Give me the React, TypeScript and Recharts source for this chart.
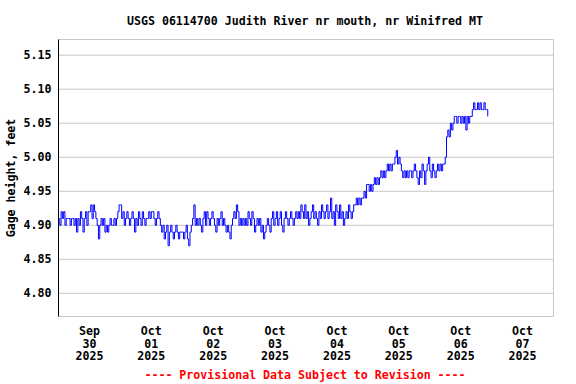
import React from "react";
import { LineChart, Line, XAxis, YAxis, CartesianGrid } from "recharts";

// Gage height readings, in hundredths of a foot, every 30 minutes from 00:00 of each day
const sep30 = [491,490,492,491,492,490,491,491,491,490,491,491,490,491,489,491,490,492,491,489,491,492,490,492,492,493,491,493,492,491,490,488,490,491,490,491,489,490,489,490,491,490,490,491,490,491,492,493];
const oct01 = [493,491,492,490,491,492,491,490,491,492,491,489,491,490,492,491,490,492,491,490,491,491,492,491,492,492,491,490,491,492,491,490,489,490,488,489,490,487,489,490,489,488,489,490,489,488,489,489];
const oct02 = [489,488,489,490,488,487,489,490,491,493,490,491,490,491,490,489,491,492,490,492,491,490,491,492,491,490,489,491,490,491,492,490,491,490,489,490,489,488,490,491,492,491,493,492,490,491,490,491];
const oct03 = [490,491,490,492,491,490,492,491,489,490,491,490,491,489,490,488,489,490,491,490,489,491,492,490,491,492,490,491,492,490,489,491,492,491,490,491,492,491,490,491,492,491,492,491,493,492,491,493];
const oct04 = [491,492,490,491,492,493,491,492,491,490,492,491,493,492,491,492,493,491,492,494,491,492,490,493,492,491,493,491,492,490,491,492,491,493,492,491,492,493,493,494,493,494,493,494,494,495,494,496];
const oct05 = [496,495,496,495,496,497,496,497,496,497,498,497,498,497,498,499,498,499,498,499,499,500,501,499,500,499,498,497,498,497,498,497,498,498,497,498,499,498,497,496,498,497,499,498,496,498,499,500];
const oct06 = [498,497,499,498,497,498,499,498,499,498,499,499,500,503,504,503,505,504,505,506,506,505,506,506,505,506,505,506,504,506,505,506,506,507,508,507,507,508,507,508,507,507,508,507,507,506];

const dayReadings = [sep30, oct01, oct02, oct03, oct04, oct05, oct06];

// x-axis: hours since Sep 30 00:00
const midnightTicks = [0, 24, 48, 72, 96, 120, 144, 168, 192];
const noonTicks = [12, 36, 60, 84, 108, 132, 156, 180];
const tickMonths = ["Sep", "Oct", "Oct", "Oct", "Oct", "Oct", "Oct", "Oct"];
const tickDays = ["30", "01", "02", "03", "04", "05", "06", "07"];
const tickYears = ["2025", "2025", "2025", "2025", "2025", "2025", "2025", "2025"];

const yTicks = [4.8, 4.85, 4.9, 4.95, 5.0, 5.05, 5.1, 5.15];

const rows = dayReadings.flatMap((arr, d) =>
  arr.map((v, i) => ({ t: d * 24 + i * 0.5, h: v / 100 }))
);

const FONT = "'DejaVu Sans Mono', monospace";

const DateTick = (props: any) => {
  const { x, y, payload } = props;
  const i = noonTicks.indexOf(payload.value);
  if (i < 0) return null;
  return (
    <text x={x} y={y} textAnchor="middle" fontFamily={FONT} fontWeight="bold" fontSize={11.6} fill="#000">
      <tspan x={x} dy={18.5}>{tickMonths[i]}</tspan>
      <tspan x={x} dy={12.6}>{tickDays[i]}</tspan>
      <tspan x={x} dy={12.8}>{tickYears[i]}</tspan>
    </text>
  );
};

export default function App() {
  return (
    <div style={{ position: "absolute", left: 0, top: 0, width: 576, height: 384, background: "#fff" }}>
      <LineChart width={576} height={384} data={rows} margin={{ top: 39.5, right: 22.5, bottom: 0, left: 0.5 }}>
        <CartesianGrid stroke="#c8c8c8" strokeWidth={1} />
        <XAxis
          dataKey="t"
          type="number"
          domain={[0, 192]}
          ticks={midnightTicks}
          tick={false}
          tickLine={false}
          height={0}
          axisLine={{ stroke: "#000", strokeWidth: 1 }}
        />
        <XAxis
          xAxisId="lbl"
          dataKey="t"
          type="number"
          domain={[0, 192]}
          ticks={noonTicks}
          interval={0}
          tickLine={false}
          axisLine={false}
          tickSize={0}
          tickMargin={0}
          height={67.5}
          tick={<DateTick />}
        />
        <XAxis
          xAxisId="top"
          orientation="top"
          type="number"
          domain={[0, 192]}
          tick={false}
          tickLine={false}
          height={0}
          axisLine={{ stroke: "#000", strokeWidth: 1 }}
        />
        <YAxis
          type="number"
          domain={[4.766, 5.173]}
          ticks={yTicks}
          interval={0}
          width={58}
          tickLine={false}
          tickSize={0}
          tickMargin={7}
          axisLine={{ stroke: "#000", strokeWidth: 1 }}
          tickFormatter={(v: number) => v.toFixed(2)}
          tick={{ fontFamily: FONT, fontWeight: "bold", fontSize: 11.6, fill: "#000" }}
        />
        <YAxis
          yAxisId="r"
          orientation="right"
          type="number"
          domain={[0, 1]}
          width={0}
          tick={false}
          tickLine={false}
          axisLine={{ stroke: "#000", strokeWidth: 1 }}
        />
        <Line
          dataKey="h"
          type="stepAfter"
          stroke="#0000ff"
          strokeWidth={1}
          dot={false}
          activeDot={false}
          isAnimationActive={false}
        />
      </LineChart>
      <svg
        width={576}
        height={384}
        style={{ position: "absolute", left: 0, top: 0, pointerEvents: "none" }}
      >
        <text x={305} y={24.5} textAnchor="middle" fontFamily={FONT} fontWeight="bold" fontSize={11.6} fill="#000">
          USGS 06114700 Judith River nr mouth, nr Winifred MT
        </text>
        <text
          x={15}
          y={178}
          textAnchor="middle"
          transform="rotate(-90 15 178)"
          fontFamily={FONT}
          fontWeight="bold"
          fontSize={11.6}
          fill="#000"
        >
          Gage height, feet
        </text>
        <text x={305} y={379} textAnchor="middle" fontFamily={FONT} fontWeight="bold" fontSize={11.6} fill="#ff0000">
          ---- Provisional Data Subject to Revision ----
        </text>
      </svg>
    </div>
  );
}
